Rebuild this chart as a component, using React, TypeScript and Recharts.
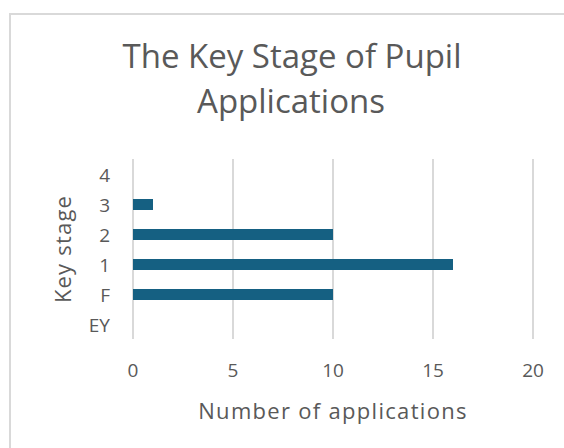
import React from "react";
import { BarChart, Bar, XAxis, YAxis, CartesianGrid, Label } from "recharts";

const stages = ["4", "3", "2", "1", "F", "EY"];
const applications = [0, 1, 10, 16, 10, 0];
const xTicks = [0, 5, 10, 15, 20];

const titleLines = ["The Key Stage of Pupil", "Applications"];
const xTitle = "Number of applications";
const yTitle = "Key stage";

const data = stages.map((s, i) => ({ stage: s, value: applications[i] }));

const FONT = "'Open Sans', 'Noto Sans', sans-serif";
const TEXT = "#595959";
const GRID = "#d9d9d9";
const BAR = "#156082";

const XTick = (props: any) => {
  const { x, y, payload } = props;
  return (
    <text x={x} y={y + 31} textAnchor="middle" dominantBaseline="central" fontSize={19} fill={TEXT} fontFamily={FONT}>
      {payload.value}
    </text>
  );
};

const YTick = (props: any) => {
  const { x, y, payload } = props;
  return (
    <text x={x - 23} y={y + 1} textAnchor="end" dominantBaseline="central" fontSize={19} fill={TEXT} fontFamily={FONT}>
      {payload.value}
    </text>
  );
};

export default function App() {
  return (
    <div style={{ position: "absolute", left: 0, top: 0, width: 564, height: 448, background: "#fff", overflow: "hidden" }}>
      <div
        style={{
          position: "absolute",
          left: 9,
          top: 13,
          width: 600,
          height: 500,
          border: `2px solid ${GRID}`,
          boxSizing: "border-box",
        }}
      />
      <svg width={564} height={140} style={{ position: "absolute", left: 0, top: 0 }}>
        <text x={292} y={68} textAnchor="middle" fontSize={33} fill={TEXT} fontFamily={FONT}>
          {titleLines[0]}
        </text>
        <text x={291} y={113} textAnchor="middle" fontSize={33} fill={TEXT} fontFamily={FONT}>
          {titleLines[1]}
        </text>
      </svg>
      <div style={{ position: "absolute", left: 0, top: 0 }}>
        <BarChart
          width={564}
          height={448}
          data={data}
          layout="vertical"
          margin={{ top: 159, right: 31, bottom: 49, left: 33 }}
          barSize={11}
        >
          <CartesianGrid horizontal={false} vertical={true} stroke={GRID} strokeWidth={2} />
          <XAxis
            type="number"
            domain={[0, 20]}
            ticks={xTicks}
            axisLine={false}
            tickLine={false}
            tickSize={0}
            tickMargin={0}
            height={60}
            tick={<XTick />}
            interval={0}
          >
            <Label
              content={(p: any) => {
                const vb = p.viewBox;
                return (
                  <text x={vb.x + vb.width / 2} y={410} textAnchor="middle" dominantBaseline="central" fontSize={22} letterSpacing={1.3} fill={TEXT} fontFamily={FONT}>
                    {xTitle}
                  </text>
                );
              }}
            />
          </XAxis>
          <YAxis
            type="category"
            dataKey="stage"
            width={100}
            axisLine={false}
            tickLine={false}
            tickSize={0}
            tickMargin={0}
            tick={<YTick />}
            interval={0}
          >
            <Label
              content={(p: any) => {
                const vb = p.viewBox;
                const cy = vb.y + vb.height / 2;
                return (
                  <text x={62} y={cy} transform={`rotate(-90 62 ${cy})`} textAnchor="middle" dominantBaseline="central" fontSize={22} letterSpacing={1.2} fill={TEXT} fontFamily={FONT}>
                    {yTitle}
                  </text>
                );
              }}
            />
          </YAxis>
          <Bar dataKey="value" fill={BAR} isAnimationActive={false} />
        </BarChart>
      </div>
    </div>
  );
}
